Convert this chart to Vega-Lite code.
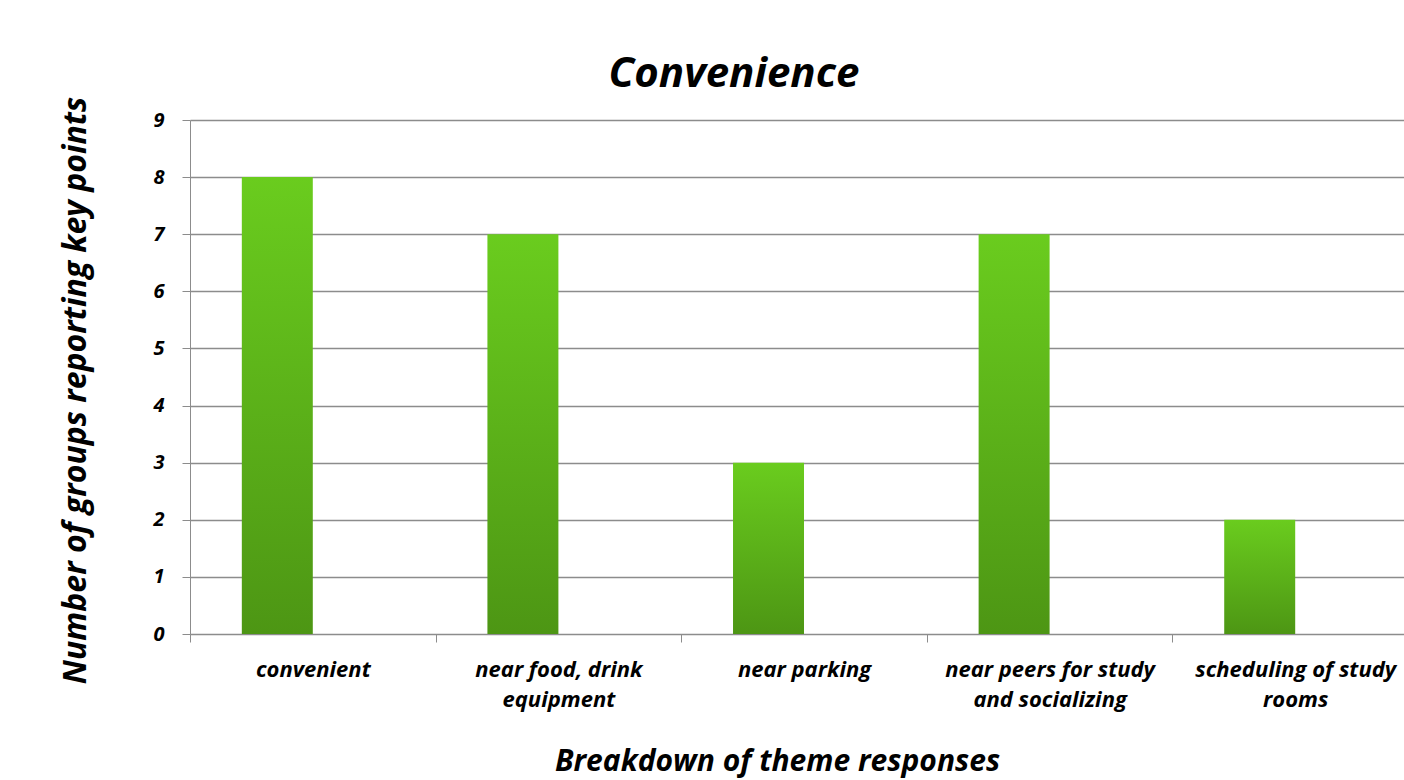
{
  "$schema": "https://vega.github.io/schema/vega-lite/v6.json",
  "autosize": "none",
  "padding": {"left": 190, "top": 120, "right": 0, "bottom": 146},
  "width": 1228,
  "height": 514,
  "background": "white",
  "title": {
    "text": "Convenience",
    "font": "Open Sans",
    "fontSize": 42,
    "fontWeight": "bold",
    "fontStyle": "italic",
    "color": "black",
    "anchor": "middle",
    "frame": "group",
    "dx": -70,
    "offset": 0
  },
  "data": {
    "values": [
      {"response": "convenient", "series": "A", "groups": 8},
      {"response": "near food, drink equipment", "series": "A", "groups": 7},
      {"response": "near parking", "series": "A", "groups": 3},
      {"response": "near peers for study and socializing", "series": "A", "groups": 7},
      {"response": "scheduling of study rooms", "series": "A", "groups": 2}
    ]
  },
  "mark": {
    "type": "bar",
    "color": {
      "gradient": "linear",
      "x1": 0, "y1": 0, "x2": 0, "y2": 1,
      "stops": [
        {"offset": 0, "color": "#6acc1e"},
        {"offset": 1, "color": "#4d9614"}
      ]
    }
  },
  "encoding": {
    "x": {
      "field": "response",
      "type": "nominal",
      "sort": null,
      "scale": {"paddingInner": 0, "paddingOuter": 0},
      "axis": {
        "title": "Breakdown of theme responses",
        "titleFont": "Open Sans",
        "titleFontSize": 30,
        "titleFontWeight": "bold",
        "titleFontStyle": "italic",
        "titleColor": "black",
        "titleX": 587,
        "titleY": 136,
        "titleBaseline": "alphabetic",
        "labelExpr": "datum.value == 'convenient' ? 'convenient' : datum.value == 'near food, drink equipment' ? ['near food, drink', 'equipment'] : datum.value == 'near parking' ? 'near parking' : datum.value == 'near peers for study and socializing' ? ['near peers for study', 'and socializing'] : datum.value == 'scheduling of study rooms' ? ['scheduling of study', 'rooms'] : ''",
        "labelAngle": 0,
        "labelFont": "Open Sans",
        "labelFontSize": 22,
        "labelFontWeight": "bold",
        "labelFontStyle": "italic",
        "labelColor": "black",
        "labelPadding": 17,
        "labelLineHeight": 30,
        "labelLimit": 0,
        "tickBand": "extent",
        "tickSize": 8,
        "tickColor": "#8c8c8c",
        "domainColor": "#8c8c8c",
        "grid": false
      }
    },
    "xOffset": {
      "field": "series",
      "type": "nominal",
      "scale": {"domain": ["A", "B"], "paddingInner": 0, "paddingOuter": 0.73}
    },
    "y": {
      "field": "groups",
      "type": "quantitative",
      "scale": {"domain": [0, 9], "nice": false},
      "axis": {
        "title": "Number of groups reporting key points",
        "titleFont": "Open Sans",
        "titleFontSize": 32,
        "titleFontWeight": "bold",
        "titleFontStyle": "italic",
        "titleColor": "black",
        "titlePadding": 60,
        "titleY": 270,
        "values": [0, 1, 2, 3, 4, 5, 6, 7, 8, 9],
        "labelFont": "Open Sans",
        "labelFontSize": 20,
        "labelFontWeight": "bold",
        "labelFontStyle": "italic",
        "labelColor": "black",
        "labelPadding": 18,
        "tickSize": 8,
        "tickColor": "#8c8c8c",
        "domainColor": "#8c8c8c",
        "gridColor": "#8c8c8c",
        "gridWidth": 1.5
      }
    }
  },
  "config": {
    "view": {"stroke": null}
  }
}
